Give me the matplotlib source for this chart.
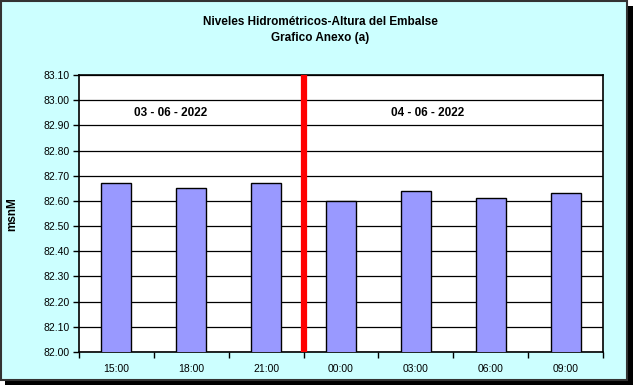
import numpy as np
import matplotlib.pyplot as plt
from matplotlib.patches import Rectangle

# data
horas = ['15:00', '18:00', '21:00', '00:00', '03:00', '06:00', '09:00']
niveles = [82.67, 82.65, 82.67, 82.60, 82.64, 82.61, 82.63]
y_ticks = [82.00, 82.10, 82.20, 82.30, 82.40, 82.50, 82.60, 82.70, 82.80, 82.90, 83.00, 83.10]
fechas = ['03 - 06 - 2022', '04 - 06 - 2022']
cambio_dia = 2.5  # between 21:00 and 00:00

plt.rcParams['font.family'] = ['Liberation Sans', 'DejaVu Sans']

W, H = 633, 385
fig = plt.figure(figsize=(W / 100, H / 100), dpi=100)
fig.patch.set_facecolor('white')

# chart frame with shadow (kept under the axes)
fig.patches.append(Rectangle((5 / W, 0), (W - 5) / W, (H - 6) / H, transform=fig.transFigure,
                             facecolor='black', edgecolor='none', zorder=-2))
fig.patches.append(Rectangle((1 / W, 5 / H), (W - 7) / W, (H - 6) / H, transform=fig.transFigure,
                             facecolor='#CCFFFF', edgecolor='#333333', linewidth=1.5, zorder=-1))

left, right, top, bottom = 79, 603, 75, 352
ax = fig.add_axes([left / W, 1 - bottom / H, (right - left) / W, (bottom - top) / H])
ax.set_facecolor('white')

x = np.arange(len(horas))
ax.bar(x, niveles, width=0.4, bottom=0, color='#9999FF', edgecolor='black', linewidth=1, zorder=3)
ax.axvline(cambio_dia, color='#FF0000', linewidth=4.5, zorder=4)

ax.set_xlim(-0.5, len(horas) - 0.5)
ax.set_ylim(y_ticks[0], y_ticks[-1])
ax.set_yticks(y_ticks)
ax.set_yticklabels(['%.2f' % v for v in y_ticks], fontsize=7.5)
ax.set_xticks(x)
ax.set_xticklabels(horas, fontsize=7.5)
ax.set_xticks(np.arange(-0.5, len(horas), 1.0), minor=True)
ax.tick_params(axis='x', which='major', length=0, pad=9)
ax.tick_params(axis='x', which='minor', length=4, width=1, direction='out')
ax.tick_params(axis='y', length=4, width=1, direction='out', pad=3)
ax.grid(axis='y', color='black', linewidth=0.9, zorder=1)
ax.set_axisbelow(True)
for s in ax.spines.values():
    s.set_color('black')
    s.set_linewidth(1.2)

ax.text(0.72, 82.95, fechas[0], ha='center', va='center', fontsize=8.5, fontweight='bold', zorder=5)
ax.text(4.16, 82.95, fechas[1], ha='center', va='center', fontsize=8.5, fontweight='bold', zorder=5)

fig.text(320 / W, 1 - 22 / H, 'Niveles Hidrométricos-Altura del Embalse', ha='center', va='center',
         fontsize=8.5, fontweight='bold')
fig.text(320 / W, 1 - 38 / H, 'Grafico Anexo (a)', ha='center', va='center',
         fontsize=8.5, fontweight='bold')
fig.text(12 / W, 1 - 214 / H, 'msnM', ha='center', va='center', rotation=90,
         fontsize=8.5, fontweight='bold')

fig.savefig('out.png', dpi=100)
